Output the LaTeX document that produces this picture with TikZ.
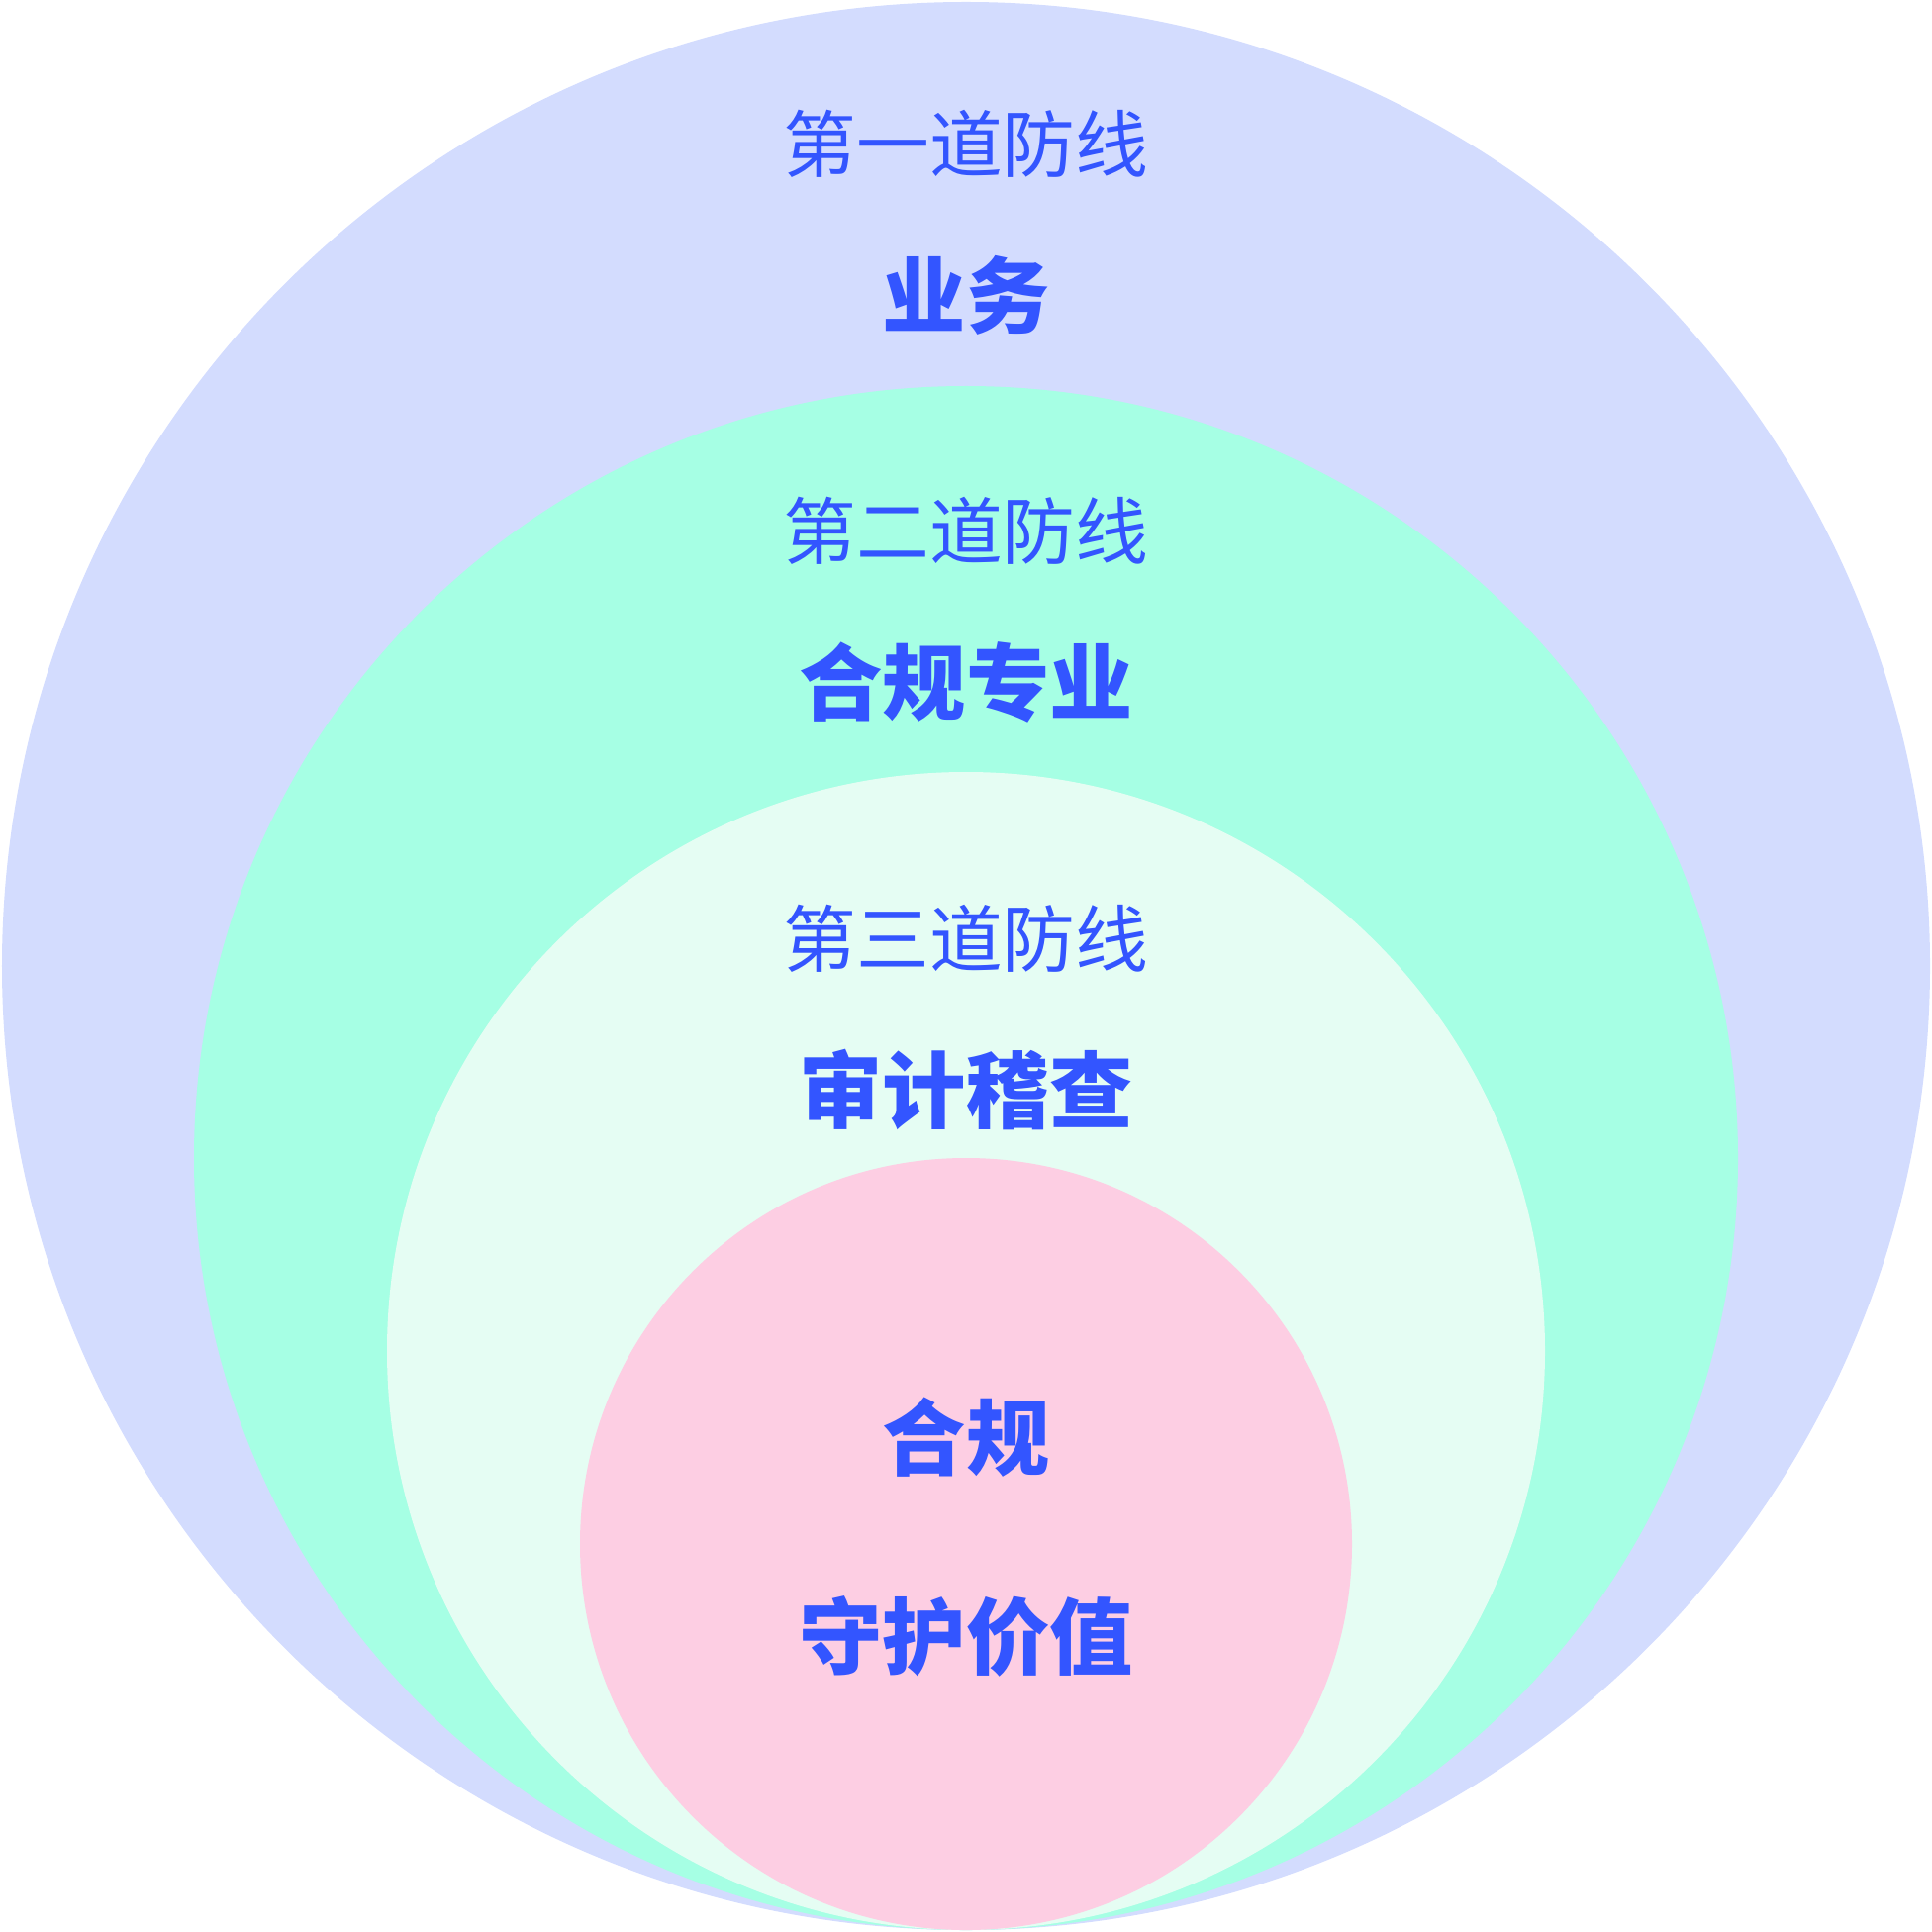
\documentclass[tikz,border=0pt]{standalone}
\usepackage{fontspec}
\newfontfamily\cjk{Noto Sans CJK SC}
\definecolor{ringA}{RGB}{211,220,254}
\definecolor{ringB}{RGB}{166,255,228}
\definecolor{ringC}{RGB}{229,253,243}
\definecolor{ringD}{RGB}{253,206,227}
\definecolor{inkBlue}{RGB}{51,85,255}
\tikzset{
  lineLabel/.style={text=inkBlue, font=\cjk\fontsize{21}{24}\selectfont, inner sep=0pt},
  roleLabel/.style={text=inkBlue, font=\cjk\bfseries\fontsize{24}{28}\selectfont, inner sep=0pt}
}
\begin{document}
\begin{tikzpicture}[yscale=-1]
    \useasboundingbox (0,0) rectangle (19.52,19.52);
    % Define the centres of the circles
    \coordinate (outerPos) at (9.76, 9.76);
    \coordinate (secondPos) at (9.76, 11.70);
    \coordinate (thirdPos) at (9.76, 13.65);
    \coordinate (corePos) at (9.76, 15.60);

    % Draw the circles
    \fill[ringA] (outerPos) circle (9.74cm);
    \fill[ringB] (secondPos) circle (7.80cm);
    \fill[ringC] (thirdPos) circle (5.85cm);
    \fill[ringD] (corePos) circle (3.90cm);

    % Draw the labels
    \node[lineLabel] (line1) at (9.76, 1.45) {第一道防线};
    \node[roleLabel] (role1) at (9.76, 2.98) {业务};
    \node[lineLabel] (line2) at (9.76, 5.36) {第二道防线};
    \node[roleLabel] (role2) at (9.76, 6.89) {合规专业};
    \node[lineLabel] (line3) at (9.76, 9.48) {第三道防线};
    \node[roleLabel] (role3) at (9.76, 11.01) {审计稽查};
    \node[roleLabel] (core1) at (9.76, 14.52) {合规};
    \node[roleLabel] (core2) at (9.76, 16.53) {守护价值};
\end{tikzpicture}
\end{document}
